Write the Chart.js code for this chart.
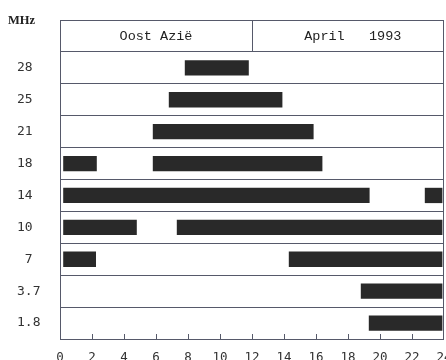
<!DOCTYPE html>
<html lang="nl">
<head>
<meta charset="UTF-8">
<title>Oost Azië - April 1993</title>
<script src="https://cdn.jsdelivr.net/npm/chart.js"></script>
<style>
  html, body { margin: 0; padding: 0; background: #fff; }
  .chart-box { position: relative; width: 446px; height: 360px; }
</style>
</head>
<body>
<div class="chart-box"><canvas id="propChart"></canvas></div>
<script>
  // banden in MHz, van boven naar onder
  const bands = ['28', '25', '21', '18', '14', '10', '7', '3.7', '1.8'];
  // openingen per band, uren UTC [begin, eind]
  const openFirst = [[7.8, 11.8], [6.8, 13.9], [5.8, 15.85], [0.2, 2.3], [0.2, 19.35],
                     [0.2, 4.8], [0.2, 2.25], [18.8, 23.9], [19.3, 23.9]];
  const openSecond = [null, null, null, [5.8, 16.4], [22.8, 23.9],
                      [7.3, 23.9], [14.3, 23.9], null, null];
  const hours = [0, 2, 4, 6, 8, 10, 12, 14, 16, 18, 20, 22, 24];
  const region = 'Oost Azië';
  const period = 'April   1993';
  const unit = 'MHz';

  const lineColor = '#56596a';
  const barColor = '#292929';

  // eerste rij is de kop (regio / periode)
  const rowLabels = [''].concat(bands);

  const framePlugin = {
    id: 'frame',
    afterDraw(chart) {
      const { ctx, chartArea: a, scales: { x, y } } = chart;
      const rowH = y.getPixelForValue(1) - y.getPixelForValue(0);
      const hdrMid = y.getPixelForValue(0);
      ctx.save();
      ctx.strokeStyle = lineColor;
      ctx.lineWidth = 1;
      ctx.beginPath();
      // rechterrand
      ctx.moveTo(a.right - 0.5, a.top);
      ctx.lineTo(a.right - 0.5, a.bottom);
      // scheiding in de kop
      const xm = Math.round(x.getPixelForValue(12)) + 0.5;
      ctx.moveTo(xm, a.top);
      ctx.lineTo(xm, a.top + rowH);
      // tickjes naar binnen
      hours.forEach(h => {
        if (h > 0 && h < 24) {
          const px = Math.round(x.getPixelForValue(h)) + 0.5;
          ctx.moveTo(px, a.bottom);
          ctx.lineTo(px, a.bottom - 5);
        }
      });
      ctx.stroke();

      ctx.fillStyle = '#222';
      ctx.textBaseline = 'middle';
      ctx.textAlign = 'center';
      ctx.font = '13.5px "Liberation Mono"';
      ctx.fillText(region, x.getPixelForValue(6), hdrMid);
      ctx.fillText(period, x.getPixelForValue(18.3), hdrMid);
      ctx.textAlign = 'left';
      ctx.font = 'bold 12.5px "Liberation Serif"';
      ctx.fillText(unit, 8, a.top + 1);
      ctx.restore();
    }
  };

  new Chart(document.getElementById('propChart'), {
    type: 'bar',
    data: {
      labels: rowLabels,
      datasets: [
        { data: [null].concat(openFirst), backgroundColor: barColor },
        { data: [null].concat(openSecond), backgroundColor: barColor }
      ]
    },
    options: {
      indexAxis: 'y',
      responsive: true,
      maintainAspectRatio: false,
      devicePixelRatio: 1,
      animation: false,
      layout: { padding: { top: 20, right: 2, left: 17, bottom: 0 } },
      datasets: {
        bar: { grouped: false, barPercentage: 0.48, categoryPercentage: 1, borderWidth: 0 }
      },
      plugins: { legend: { display: false }, tooltip: { enabled: false } },
      scales: {
        x: {
          type: 'linear',
          min: 0,
          max: 24,
          afterBuildTicks(s) { s.ticks = hours.map(v => ({ value: v })); },
          afterFit(s) { s.height = 21; s.paddingLeft = 0; s.paddingRight = 0; },
          grid: { display: false, drawTicks: false },
          border: { display: false },
          ticks: {
            padding: 11,
            maxRotation: 0,
            autoSkip: false,
            color: '#333',
            font: { family: 'DejaVu Sans Mono', size: 12.5 }
          }
        },
        y: {
          type: 'category',
          afterFit(s) { s.width = 43; s.paddingTop = 0; s.paddingBottom = 0; },
          grid: { offset: true, color: lineColor, lineWidth: 1, drawTicks: false },
          border: { display: true, color: lineColor, width: 1 },
          ticks: {
            crossAlign: 'far',
            padding: 0,
            color: '#333',
            font: { family: 'DejaVu Sans Mono', size: 13 },
            callback(v, i) {
              const lbl = rowLabels[i];
              return lbl.length === 1 ? ' ' + lbl : lbl;
            }
          }
        }
      }
    },
    plugins: [framePlugin]
  });
</script>
</body>
</html>
